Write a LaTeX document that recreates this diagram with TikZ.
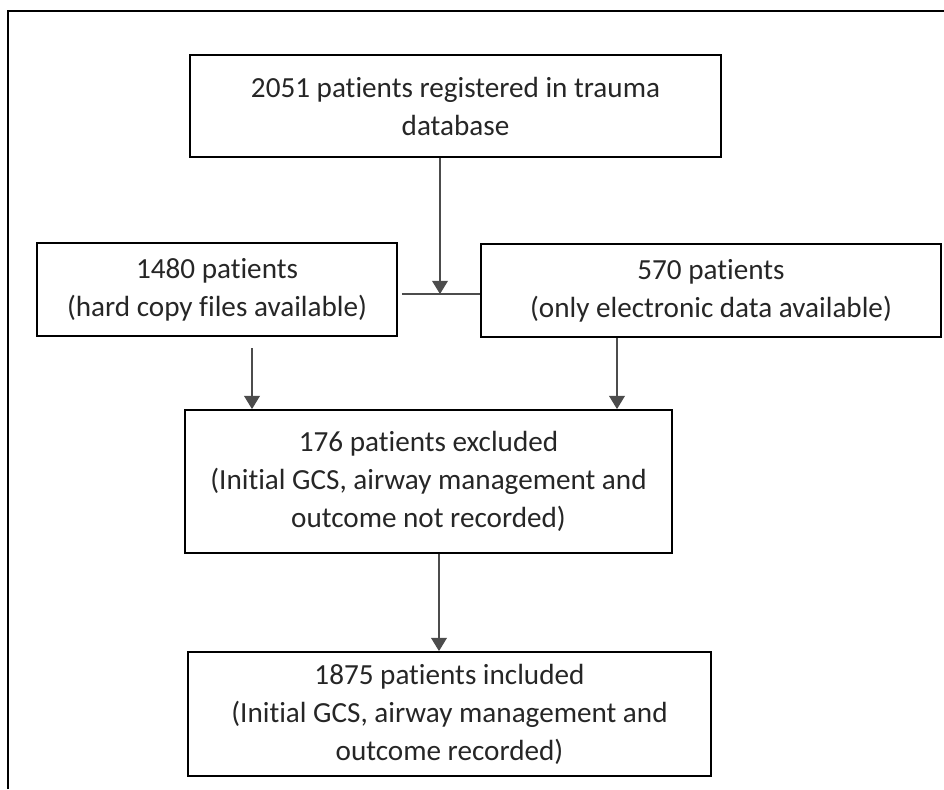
\documentclass[tikz,border=0pt]{standalone}
\usepackage{fontspec}
\setmainfont{Carlito}[RawFeature={-liga;-clig;-dlig;-calt}]
\usepackage{tikz}
\usetikzlibrary{arrows.meta}
\usetikzlibrary{calc}

\begin{document}
\begin{tikzpicture}[x=0.02cm,y=-0.02cm,
  box/.style={draw,line width=1.1pt,align=center,inner sep=0pt,
    font=\fontsize{16.6}{21.6}\selectfont,text=black!85},
  conn/.style={line width=0.6pt,draw=black!70,-{Triangle[width=9pt,length=7.5pt]}}]
\useasboundingbox (0,0) rectangle (944,789);
% frame
\draw[line width=1.1pt] (8,789) -- (8,11) -- (944,11);
% boxes
\node[box] (db) at (455.5,106) [minimum width=10.62cm,minimum height=2.04cm] {2051 patients registered in trauma\\database};
\node[box] (hard) at (217,289.5) [minimum width=7.2cm,minimum height=1.86cm] {1480 patients\\(hard copy files available)};
\node[box] (elec) at (711,290.5) [minimum width=9.2cm,minimum height=1.86cm] {570 patients\\(only electronic data available)};
\node[box] (excl) at (428.5,481.5) [minimum width=9.74cm,minimum height=2.86cm] {176 patients excluded\\(Initial GCS, airway management and\\outcome not recorded)};
\node[box] (incl) at (449.5,714) [minimum width=10.46cm,minimum height=2.48cm] {1875 patients included\\(Initial GCS, airway management and\\outcome recorded)};
% connectors
\coordinate (j) at (440,294);
\draw[conn] (db.south -| j) -- (j);
\draw[line width=0.8pt,draw=black!70] ($(hard.east |- j)+(4,0)$) -- (elec.west |- j);
\coordinate (h) at (252,348);
\draw[conn] (h) -- (excl.north -| h);
\draw[conn] (elec.south -| 617,0) -- (excl.north -| 617,0);
\draw[conn] (excl.south -| 439,0) -- (incl.north -| 439,0);
\end{tikzpicture}
\end{document}
